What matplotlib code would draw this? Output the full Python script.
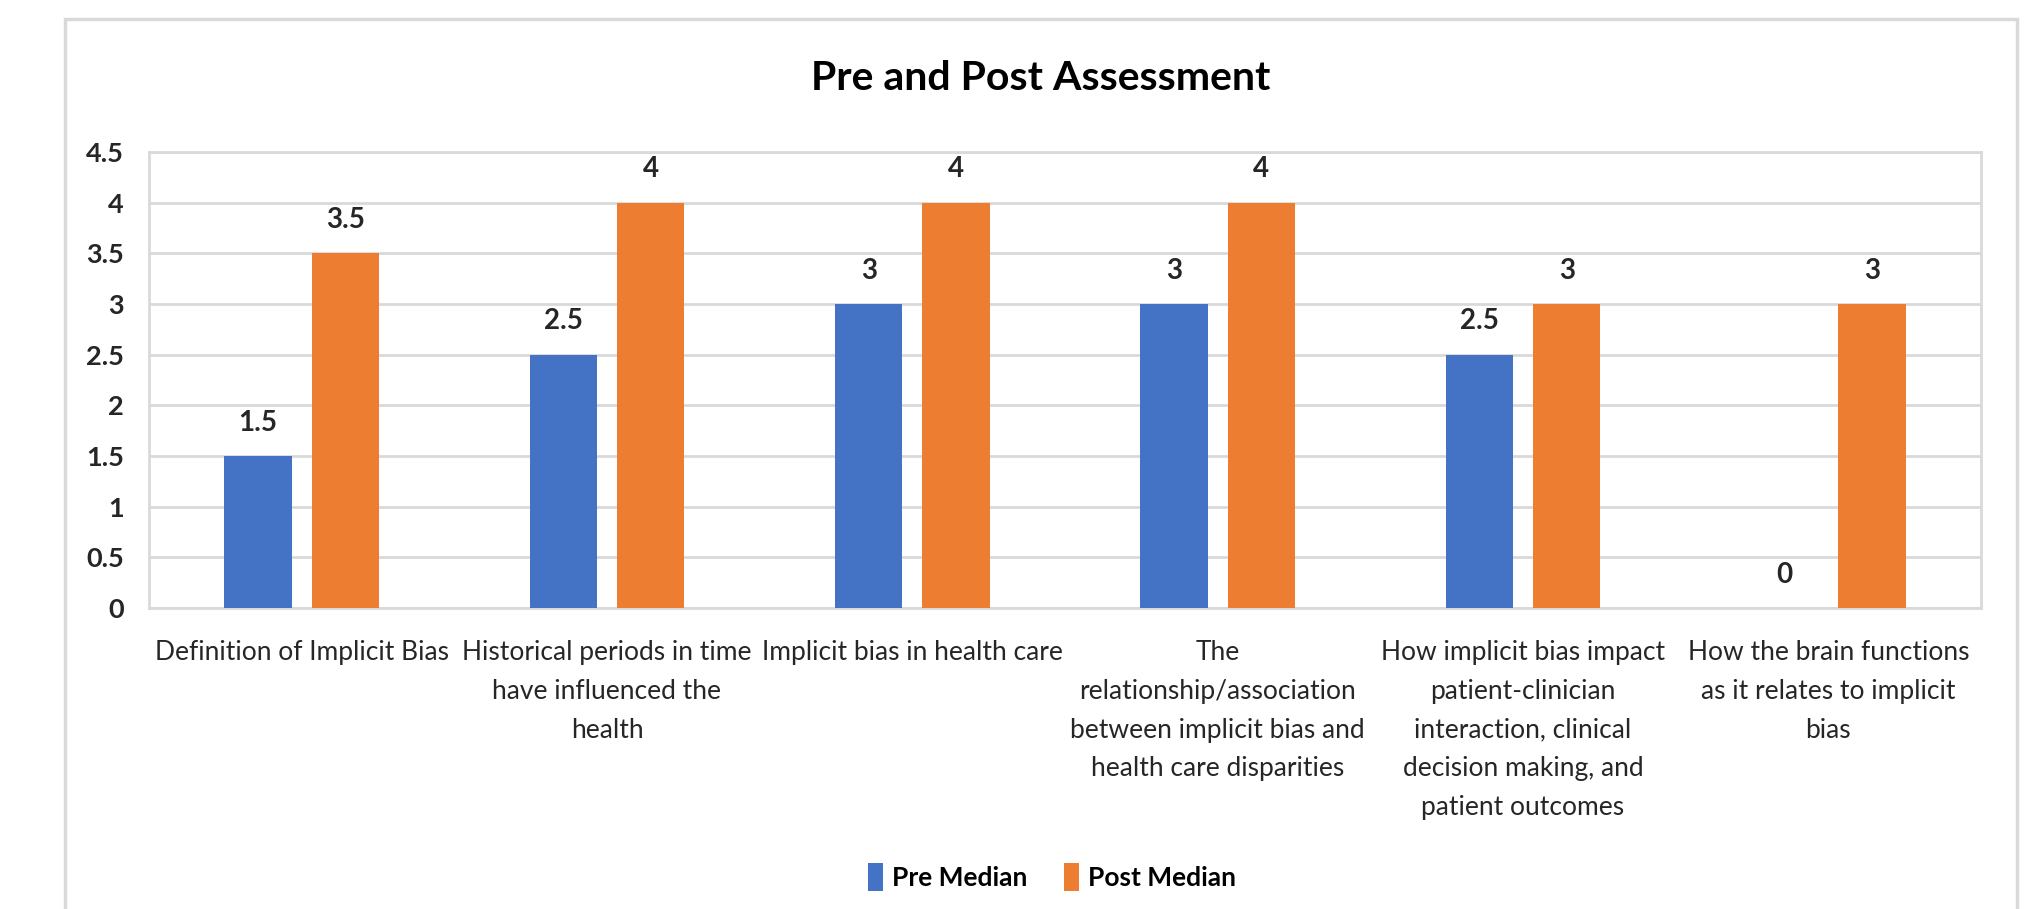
import matplotlib
matplotlib.use("Agg")
import matplotlib.pyplot as plt
from matplotlib.patches import Rectangle
import numpy as np

categories = [
    "Definition of Implicit Bias",
    "Historical periods in time\nhave influenced the\nhealth",
    "Implicit bias in health care",
    "The\nrelationship/association\nbetween implicit bias and\nhealth care disparities",
    "How implicit bias impact\npatient-clinician\ninteraction, clinical\ndecision making, and\npatient outcomes",
    "How the brain functions\nas it relates to implicit\nbias",
]
pre_median = [1.5, 2.5, 3, 3, 2.5, 0]
post_median = [3.5, 4, 4, 4, 3, 3]
series_names = ["Pre Median", "Post Median"]
title = "Pre and Post Assessment"
yticks = [0, 0.5, 1, 1.5, 2, 2.5, 3, 3.5, 4, 4.5]

plt.rcParams['font.family'] = ['Lato', 'DejaVu Sans']

W, H = 2039, 909
fig = plt.figure(figsize=(W / 100, H / 100), dpi=100)
L, R, T, B = 149, 1981, 152, 608
ax = fig.add_axes([L / W, 1 - B / H, (R - L) / W, (B - T) / H])

blue = "#4472C4"
orange = "#ED7D31"
grid = "#D9D9D9"

x = np.arange(len(categories))
w = 0.22
off = 0.143
b1 = ax.bar(x - off, pre_median, w, color=blue, label=series_names[0], zorder=3)
b2 = ax.bar(x + off, post_median, w, color=orange, label=series_names[1], zorder=3)

for bars, vals in ((b1, pre_median), (b2, post_median)):
    for rect, v in zip(bars, vals):
        ax.annotate(f"{v:g}", (rect.get_x() + rect.get_width() / 2, v),
                    xytext=(0, 24), textcoords="offset points",
                    ha="center", va="center", fontsize=20, fontweight="bold",
                    color="#262626")

ax.set_xlim(-0.5, len(categories) - 0.5)
ax.set_ylim(0, 4.5)
ax.set_yticks(yticks)
ax.set_yticklabels([f"{t:g}" for t in yticks], fontsize=19.5, fontweight="bold", color="#262626")
ax.set_xticks(x)
ax.set_xticklabels(categories, fontsize=19, color="#262626", linespacing=1.69, va="top")
ax.tick_params(axis="y", length=0, pad=18)
ax.tick_params(axis="x", length=0, pad=23)
ax.yaxis.grid(True, color=grid, linewidth=2, zorder=0)
ax.set_axisbelow(True)
for s in ax.spines.values():
    s.set_color(grid)
    s.set_linewidth(2)

fig.text(1041 / W, 1 - 78 / H, title, ha="center", va="center",
         fontsize=29.5, fontweight="bold", color="#000000")

fig.legend(handles=[b1, b2], labels=series_names, loc="center",
           bbox_to_anchor=(1052 / W, 1 - 877 / H), ncol=2, frameon=False,
           prop={"size": 19, "weight": "bold"}, handlelength=0.55, handleheight=1.2,
           handletextpad=0.35, columnspacing=1.4)

fig.patches.append(Rectangle((65 / W, -0.1), (2017 - 65) / W, (H - 19) / H + 0.1,
                             transform=fig.transFigure, fill=False,
                             edgecolor=grid, linewidth=2.5))

fig.savefig("out.png", dpi=100, facecolor="white")
